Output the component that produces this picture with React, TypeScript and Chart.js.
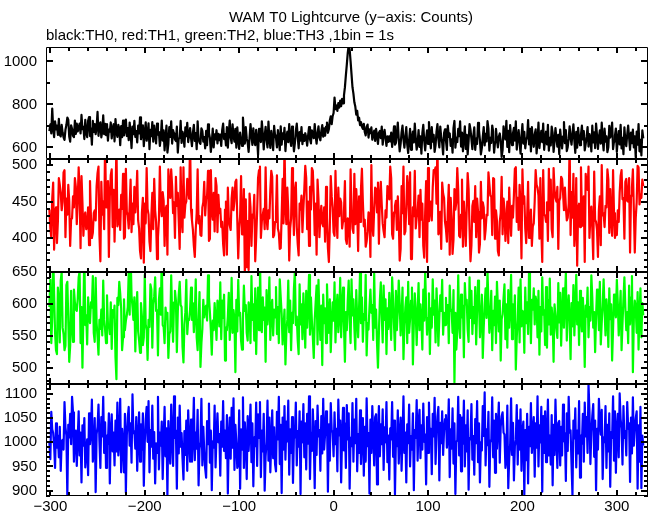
import { useEffect, useRef } from 'react';
import { Chart, registerables } from 'chart.js';

Chart.register(...registerables);

const TITLE = 'WAM T0 Lightcurve (y−axis: Counts)';
const SUBTITLE = 'black:TH0, red:TH1, green:TH2, blue:TH3 ,1bin = 1s';

// first bin time (s); 1 bin = 1 s
const T_START = -301;

// TH0 (black)
const TH0 = [
  676, 707, 665, 781, 690, 648, 721, 684, 701, 658, 733, 659, 651, 705, 669, 647, 635, 682, 704, 739, 729, 651, 627, 703, 687, 654, 648, 725, 663, 711,
  674, 692, 711, 665, 751, 685, 696, 639, 728, 668, 648, 724, 741, 653, 689, 613, 723, 672, 709, 662, 693, 765, 654, 704, 717, 647, 674, 749, 662, 710,
  657, 709, 631, 683, 673, 716, 642, 690, 708, 628, 732, 671, 649, 705, 688, 610, 699, 648, 725, 656, 680, 729, 653, 690, 634, 716, 670, 597, 697, 662,
  724, 649, 676, 623, 701, 665, 740, 638, 665, 703, 606, 669, 717, 631, 659, 712, 592, 682, 652, 718, 627, 701, 662, 619, 711, 659, 672, 607, 647, 725,
  632, 679, 586, 646, 701, 576, 617, 695, 649, 721, 618, 680, 663, 637, 630, 697, 576, 642, 644, 723, 621, 673, 653, 603, 693, 652, 714, 625, 660, 690,
  642, 606, 669, 705, 630, 666, 592, 721, 640, 623, 617, 689, 677, 627, 648, 596, 677, 610, 707, 668, 644, 579, 623, 687, 600, 661, 637, 680, 619, 663,
  634, 660, 607, 680, 711, 639, 662, 609, 695, 599, 670, 725, 645, 620, 707, 655, 627, 686, 599, 693, 639, 593, 669, 638, 607, 739, 672, 618, 695, 642,
  622, 579, 646, 709, 654, 612, 689, 629, 611, 682, 640, 565, 686, 646, 625, 721, 664, 591, 653, 696, 635, 600, 720, 639, 598, 677, 639, 587, 700, 656,
  643, 600, 680, 636, 587, 698, 613, 666, 639, 691, 583, 646, 673, 624, 709, 641, 607, 697, 646, 582, 620, 676, 711, 649, 596, 671, 632, 695, 615, 659,
  630, 666, 646, 608, 655, 694, 638, 619, 679, 662, 643, 708, 654, 618, 666, 698, 645, 633, 676, 704, 650, 689, 655, 697, 716, 668, 685, 725, 745, 708,
  745, 760, 832, 778, 795, 770, 806, 785, 818, 792, 826, 805, 842, 880, 935, 985, 1040, 1075, 1055, 1000, 940, 880, 850, 810, 790, 752, 770, 726, 738, 704,
  718, 697, 686, 710, 672, 656, 695, 706, 646, 684, 666, 693, 636, 659, 678, 630, 686, 655, 616, 668, 677, 643, 697, 613, 660, 682, 642, 607, 652, 626,
  652, 628, 669, 602, 646, 698, 613, 621, 662, 716, 641, 582, 616, 670, 701, 637, 599, 649, 694, 613, 574, 634, 686, 589, 641, 674, 623, 711, 642, 590,
  620, 681, 602, 651, 571, 666, 705, 632, 586, 641, 679, 616, 718, 645, 596, 694, 627, 658, 579, 611, 673, 708, 639, 600, 697, 646, 621, 567, 667, 684,
  631, 588, 702, 649, 665, 607, 638, 576, 690, 723, 599, 644, 625, 686, 652, 721, 604, 669, 582, 642, 698, 593, 659, 567, 630, 709, 683, 637, 592, 653,
  693, 589, 641, 616, 714, 680, 634, 568, 597, 648, 695, 609, 663, 628, 722, 688, 585, 645, 621, 702, 674, 576, 625, 686, 638, 600, 649, 665, 631, 556,
  588, 698, 655, 637, 724, 602, 677, 578, 704, 642, 611, 666, 691, 632, 721, 590, 641, 681, 623, 571, 653, 708, 618, 672, 596, 635, 648, 727, 614, 686,
  581, 694, 639, 603, 660, 684, 572, 630, 716, 597, 648, 677, 624, 711, 589, 638, 673, 614, 705, 585, 644, 609, 697, 667, 579, 628, 690, 646, 604, 658,
  569, 683, 635, 595, 652, 718, 620, 680, 583, 602, 642, 698, 645, 613, 665, 707, 632, 575, 672, 599, 691, 639, 610, 659, 701, 637, 676, 586, 616, 649,
  695, 604, 662, 641, 581, 701, 623, 670, 597, 711, 656, 593, 644, 679, 618, 715, 635, 586, 687, 627, 651, 578, 602, 700, 646, 666, 715, 592, 628, 655,
  688, 579, 638, 676, 614, 705, 595, 645, 569, 693, 630, 606, 660, 702, 644, 589, 669, 620, 683, 600, 652, 555, 674, 613, 709, 582, 635, 563, 679, 642,
];

// TH1 (red)
const TH1 = [
  439, 413, 401, 454, 476, 384, 436, 442, 393, 423, 482, 473, 462, 438, 450, 490, 493, 401, 454, 432, 473, 451, 389, 426, 427, 457, 442, 482, 470, 419,
  451, 497, 463, 386, 485, 449, 403, 430, 435, 412, 415, 442, 390, 478, 428, 400, 407, 434, 438, 424, 471, 489, 498, 404, 368, 477, 432, 450, 412, 534,
  442, 461, 478, 374, 457, 486, 494, 415, 466, 395, 449, 531, 416, 422, 439, 411, 459, 440, 488, 399, 401, 495, 436, 431, 413, 443, 480, 408, 447, 419,
  470, 435, 455, 492, 424, 413, 382, 372, 435, 455, 366, 447, 420, 496, 440, 432, 395, 382, 430, 462, 412, 481, 438, 422, 371, 401, 425, 498, 443, 430,
  463, 451, 389, 439, 444, 377, 494, 473, 455, 494, 471, 434, 449, 400, 484, 444, 462, 423, 385, 497, 425, 408, 497, 428, 446, 450, 481, 467, 454, 534,
  439, 424, 411, 389, 374, 412, 434, 494, 420, 430, 404, 403, 442, 449, 477, 431, 454, 458, 492, 396, 399, 493, 438, 425, 462, 409, 482, 471, 408, 459,
  434, 440, 415, 422, 392, 376, 439, 450, 377, 469, 427, 417, 411, 454, 469, 438, 451, 477, 480, 425, 372, 413, 430, 485, 405, 416, 467, 350, 453, 360,
  423, 356, 461, 442, 389, 432, 428, 459, 368, 400, 435, 482, 493, 498, 400, 423, 432, 440, 412, 497, 427, 412, 438, 427, 466, 492, 484, 401, 404, 422,
  436, 486, 413, 407, 385, 386, 431, 481, 420, 531, 443, 419, 469, 438, 369, 413, 427, 496, 449, 404, 466, 476, 415, 392, 376, 447, 439, 458, 408, 440,
  467, 499, 482, 412, 450, 389, 470, 439, 496, 492, 458, 404, 447, 377, 480, 453, 401, 430, 444, 420, 416, 442, 395, 470, 428, 386, 367, 415, 485, 457,
  442, 408, 403, 492, 432, 400, 469, 430, 454, 449, 413, 423, 436, 478, 398, 392, 427, 425, 388, 494, 439, 413, 407, 488, 419, 467, 438, 382, 457, 422,
  467, 495, 450, 416, 425, 388, 395, 409, 435, 432, 374, 500, 420, 403, 440, 469, 467, 435, 476, 392, 455, 477, 446, 420, 409, 401, 438, 428, 471, 458,
  453, 498, 482, 405, 399, 435, 444, 451, 411, 457, 427, 369, 385, 471, 434, 498, 405, 409, 442, 485, 466, 419, 490, 371, 373, 442, 430, 492, 413, 428,
  438, 458, 401, 466, 425, 447, 389, 373, 435, 478, 367, 496, 423, 440, 450, 424, 469, 493, 492, 497, 447, 534, 405, 408, 436, 385, 476, 461, 455, 422,
  412, 395, 438, 473, 377, 455, 428, 378, 398, 467, 439, 449, 496, 466, 403, 401, 432, 480, 388, 450, 423, 389, 440, 489, 467, 412, 368, 390, 444, 451,
  422, 471, 401, 454, 436, 380, 392, 477, 427, 449, 442, 398, 411, 432, 431, 490, 474, 458, 457, 404, 482, 481, 399, 438, 424, 382, 376, 422, 434, 484,
  405, 454, 440, 396, 420, 450, 393, 469, 430, 403, 444, 428, 459, 495, 497, 422, 455, 411, 473, 443, 372, 494, 447, 457, 413, 393, 428, 477, 400, 405,
  439, 389, 416, 420, 450, 493, 473, 469, 458, 399, 482, 412, 367, 493, 432, 431, 422, 449, 396, 495, 438, 480, 412, 401, 496, 466, 455, 450, 470, 385,
  451, 455, 484, 481, 462, 438, 469, 443, 424, 428, 447, 531, 404, 463, 428, 488, 389, 413, 482, 362, 440, 447, 415, 497, 434, 417, 457, 367, 488, 470,
  466, 498, 400, 430, 443, 413, 371, 491, 425, 422, 411, 374, 439, 457, 390, 500, 431, 434, 415, 444, 442, 494, 480, 407, 467, 424, 403, 493, 434, 400,
  423, 404, 438, 422, 462, 485, 493, 453, 455, 399, 477, 481, 451, 450, 482, 380, 458, 469, 494, 439, 380, 427, 449, 499, 497, 446, 459, 455, 480, 471,
];

// TH2 (green)
const TH2 = [
  595, 637, 539, 579, 678, 614, 555, 528, 522, 625, 606, 540, 636, 649, 563, 553, 528, 535, 629, 634, 575, 510, 535, 620, 565, 541, 622, 602, 591, 589,
  607, 641, 650, 539, 595, 501, 586, 679, 567, 582, 537, 610, 579, 570, 602, 594, 643, 555, 541, 640, 570, 548, 521, 575, 561, 591, 551, 636, 575, 560,
  539, 613, 568, 567, 553, 602, 530, 590, 579, 597, 517, 483, 609, 598, 634, 616, 593, 528, 548, 607, 559, 574, 582, 595, 648, 583, 679, 613, 595, 575,
  610, 526, 587, 618, 557, 543, 524, 601, 580, 536, 548, 645, 568, 559, 513, 575, 564, 630, 622, 532, 599, 611, 641, 589, 590, 520, 606, 624, 583, 679,
  567, 564, 539, 594, 576, 586, 516, 553, 557, 644, 582, 541, 602, 620, 605, 525, 589, 614, 634, 598, 595, 533, 509, 568, 587, 637, 553, 576, 575, 591,
  625, 575, 601, 556, 583, 638, 548, 528, 574, 618, 502, 539, 561, 606, 579, 594, 597, 574, 644, 610, 587, 559, 521, 574, 559, 601, 575, 544, 605, 595,
  565, 633, 545, 605, 578, 614, 512, 563, 559, 580, 617, 544, 574, 640, 555, 590, 576, 494, 606, 557, 637, 582, 586, 543, 529, 575, 628, 589, 598, 555,
  543, 602, 590, 539, 643, 575, 599, 543, 624, 522, 584, 625, 559, 676, 576, 556, 610, 575, 594, 510, 621, 568, 587, 641, 544, 593, 606, 551, 591, 579,
  626, 553, 595, 539, 638, 610, 584, 537, 564, 591, 506, 557, 575, 636, 556, 605, 528, 586, 570, 624, 650, 567, 580, 543, 522, 630, 568, 599, 545, 616,
  576, 532, 620, 563, 598, 645, 552, 610, 574, 548, 516, 575, 602, 628, 537, 637, 579, 544, 597, 505, 614, 570, 593, 539, 630, 580, 555, 607, 525, 570,
  602, 574, 633, 540, 589, 614, 556, 580, 640, 548, 595, 625, 565, 510, 587, 559, 605, 636, 575, 539, 638, 582, 607, 563, 529, 621, 578, 548, 594, 648,
  570, 610, 541, 584, 575, 645, 520, 570, 560, 594, 622, 586, 598, 544, 647, 563, 591, 539, 501, 556, 605, 633, 583, 540, 628, 575, 607, 522, 593, 561,
  617, 580, 544, 641, 606, 567, 528, 620, 559, 589, 636, 601, 551, 578, 625, 514, 565, 594, 610, 539, 634, 555, 576, 605, 625, 506, 570, 616, 586, 536,
  590, 632, 559, 599, 575, 529, 622, 574, 650, 595, 552, 578, 616, 522, 593, 563, 638, 583, 605, 540, 624, 586, 535, 579, 613, 589, 637, 552, 586, 567,
  609, 570, 598, 539, 628, 589, 591, 555, 621, 478, 586, 529, 557, 644, 570, 547, 614, 579, 597, 517, 632, 599, 606, 560, 541, 641, 578, 620, 553, 595,
  570, 626, 537, 590, 636, 607, 548, 579, 614, 516, 563, 598, 624, 578, 650, 602, 555, 575, 620, 528, 589, 567, 611, 539, 634, 597, 557, 605, 512, 576,
  584, 609, 630, 545, 599, 532, 621, 563, 593, 645, 545, 599, 563, 613, 498, 548, 576, 625, 540, 638, 565, 589, 586, 524, 625, 570, 602, 553, 650, 614,
  539, 606, 591, 624, 568, 611, 601, 548, 620, 521, 595, 557, 641, 583, 590, 536, 626, 532, 606, 568, 639, 552, 594, 575, 510, 599, 582, 561, 547, 632,
  571, 617, 535, 586, 624, 563, 606, 648, 543, 590, 613, 575, 514, 601, 565, 629, 551, 593, 645, 568, 602, 536, 620, 583, 557, 609, 575, 502, 597, 580,
  625, 548, 595, 574, 644, 610, 563, 587, 525, 580, 622, 602, 559, 634, 537, 571, 598, 638, 591, 551, 607, 582, 533, 624, 576, 599, 512, 561, 614, 591,
  579, 637, 602, 551, 584, 620, 528, 570, 607, 641, 595, 559, 587, 539, 628, 568, 610, 643, 494, 576, 605, 594, 555, 618, 529, 584, 624, 548, 601, 582,
];

// TH3 (blue)
const TH3 = [
  1001, 965, 1063, 1027, 1019, 993, 947, 1039, 989, 1014, 969, 1032, 941, 1002, 1005, 985, 1083, 1031, 1014, 889, 1036, 1010, 1059, 996, 1094, 1062, 960, 1012, 1024, 951,
  1009, 1064, 973, 1020, 917, 1035, 993, 1050, 948, 978, 1006, 932, 1060, 996, 1021, 1088, 960, 985, 1050, 897, 1017, 1032, 1078, 1002, 947, 1052, 1012, 1094, 978, 1041,
  947, 1014, 997, 1060, 915, 1024, 1058, 981, 1020, 952, 1045, 981, 1082, 973, 1004, 1090, 938, 1028, 1000, 938, 1059, 896, 1014, 1051, 1073, 993, 1039, 958, 1099, 1019,
  1023, 987, 1052, 941, 1006, 1062, 960, 1037, 985, 1060, 910, 1000, 1047, 1073, 1001, 1085, 938, 1025, 991, 1076, 966, 1021, 915, 998, 978, 1094, 944, 1020, 993, 1043,
  924, 1005, 1073, 971, 1029, 890, 1044, 987, 956, 1078, 1008, 951, 1095, 1009, 1024, 904, 1051, 977, 1076, 991, 1019, 966, 923, 1023, 974, 1045, 941, 1066, 1002, 960,
  1047, 960, 1012, 1092, 963, 1020, 987, 1067, 911, 986, 1001, 1090, 952, 1032, 982, 946, 927, 1044, 996, 1080, 958, 1024, 901, 1002, 989, 1076, 948, 1014, 1060, 1000,
  1017, 931, 1043, 991, 1085, 982, 1024, 967, 1056, 894, 1010, 1051, 966, 1071, 989, 1091, 943, 1036, 1000, 947, 954, 1066, 904, 1027, 985, 1093, 947, 1041, 1005, 924,
  1054, 982, 1023, 1078, 959, 1039, 909, 1010, 992, 1082, 951, 1058, 1009, 1083, 928, 1024, 981, 1059, 900, 971, 1001, 1086, 962, 1051, 938, 1001, 1066, 967, 1031, 955,
  940, 1063, 1006, 1094, 955, 1036, 895, 1051, 985, 1075, 964, 1043, 1002, 1086, 933, 1027, 978, 1052, 916, 1013, 1010, 1082, 952, 1023, 991, 1064, 893, 1043, 1000, 1079,
  969, 1039, 944, 1059, 997, 1095, 924, 1020, 982, 1068, 1008, 905, 1044, 974, 1076, 1012, 1025, 941, 1054, 977, 1090, 985, 1017, 1064, 1056, 898, 1037, 962, 1081, 1025,
  1020, 971, 1062, 996, 1028, 940, 1088, 1014, 1045, 917, 1013, 1071, 983, 1039, 947, 1077, 1006, 1060, 904, 1009, 992, 1081, 960, 1047, 998, 1090, 940, 1017, 978, 1066,
  955, 1020, 1050, 931, 1032, 960, 1091, 992, 1019, 894, 1047, 978, 1075, 1013, 952, 1052, 1058, 913, 1012, 1075, 971, 1037, 996, 1068, 943, 1031, 1000, 1083, 959, 1014,
  923, 1029, 1006, 1083, 970, 1045, 892, 1005, 992, 1066, 956, 1016, 1051, 941, 1010, 1095, 978, 1020, 917, 1037, 998, 1078, 950, 1013, 985, 1060, 901, 1025, 1009, 1087,
  962, 1039, 1067, 967, 1035, 985, 1080, 1001, 1016, 913, 1052, 978, 1082, 997, 1028, 934, 1059, 1012, 1092, 955, 1020, 1054, 1073, 921, 1040, 998, 1064, 974, 1024, 1048,
  1056, 989, 1012, 1089, 928, 1027, 987, 1070, 956, 1039, 893, 1001, 1004, 1094, 973, 1056, 940, 1051, 997, 1086, 950, 1035, 981, 1066, 902, 1009, 1006, 1079, 964, 1013,
  933, 1048, 998, 1085, 959, 1039, 917, 1000, 983, 1075, 1013, 1103, 952, 1027, 994, 1063, 908, 1004, 1002, 1093, 969, 1045, 937, 1059, 987, 1032, 1082, 958, 1032, 1054,
  1062, 1020, 1016, 947, 963, 1076, 905, 967, 996, 1091, 974, 1040, 921, 992, 1005, 1077, 954, 1045, 985, 1068, 941, 1024, 1043, 889, 1025, 963, 1059, 915, 1032, 992,
  1081, 978, 1023, 1052, 929, 1039, 989, 1095, 950, 1035, 1000, 1073, 898, 1054, 978, 1064, 959, 1014, 1088, 973, 1014, 954, 1056, 911, 1036, 974, 1088, 1009, 947, 1040,
  1044, 952, 1032, 973, 1078, 1002, 1019, 920, 1060, 982, 1094, 1020, 1025, 955, 890, 1045, 1008, 1070, 948, 1024, 977, 1085, 927, 1014, 997, 1059, 960, 1082, 1012, 1052,
  978, 1121, 1063, 955, 1021, 1054, 1079, 970, 1045, 901, 1028, 985, 1090, 1040, 1016, 1067, 924, 1010, 1000, 1075, 947, 1036, 981, 1060, 908, 1021, 1009, 1095, 962, 1064,
  937, 1027, 1059, 969, 1101, 1048, 1029, 954, 1075, 1009, 1023, 973, 1083, 1028, 1039, 918, 1051, 977, 1093, 993, 1027, 1050, 1064, 904, 1035, 960, 1073, 905, 1014, 993,
];

// axes
const X_MIN = -304.6;
const X_MAX = 333;
const X_LABELS = [-300, -200, -100, 0, 100, 200, 300];
const X_MINOR = 20;
const X_MAJOR = 100;

const Y_MIN = [545, 354, 476, 889];
const Y_MAX = [1067, 508, 650, 1121];
const Y_LABELS = [
  [600, 800, 1000],
  [400, 450, 500],
  [500, 550, 600, 650],
  [900, 950, 1000, 1050, 1100],
];
const Y_MINOR = [100, 10, 10, 10];
const Y_MAJOR = [200, 50, 50, 50];

const SERIES = [TH0, TH1, TH2, TH3];
const COLORS = ['#000000', '#ff0000', '#00ff00', '#0000ff'];
const WIDTHS = [2.2, 2.2, 2.2, 2.2];

const FONT = '"Liberation Sans", Arial, Helvetica, sans-serif';
const fmt = (v: number) => (v < 0 ? '\u2212' + Math.abs(v) : String(v));

const panelPlugin = {
  id: 'wamPanels',
  beforeDatasetDraw(chart: any, args: any) {
    const ds = chart.data.datasets[args.index];
    const ys = chart.scales[ds.yAxisID];
    const ca = chart.chartArea;
    const ctx = chart.ctx;
    ctx.save();
    ctx.beginPath();
    ctx.rect(ca.left, ys.top, ca.right - ca.left, ys.bottom - ys.top);
    ctx.clip();
  },
  afterDatasetDraw(chart: any) {
    chart.ctx.restore();
  },
  afterDraw(chart: any) {
    const ctx = chart.ctx;
    const ca = chart.chartArea;
    const xs = chart.scales.x;
    ctx.save();
    ctx.strokeStyle = '#000';
    const L = Math.round(ca.left);
    const R = Math.round(ca.right);
    for (let p = 0; p < 4; p++) {
      const ys = chart.scales['y' + p];
      const T = Math.round(ys.top);
      const B = Math.round(ys.bottom);
      // frame
      ctx.lineWidth = 1;
      ctx.beginPath();
      ctx.moveTo(L + 0.5, T + 0.5);
      ctx.lineTo(R - 0.5, T + 0.5);
      ctx.lineTo(R - 0.5, B - 0.5);
      ctx.lineTo(L + 0.5, B - 0.5);
      ctx.closePath();
      ctx.stroke();
      // x ticks (top & bottom, inward)
      ctx.lineWidth = 2;
      ctx.beginPath();
      for (let v = Math.ceil(X_MIN / X_MINOR) * X_MINOR; v <= X_MAX; v += X_MINOR) {
        const px = Math.round(xs.getPixelForValue(v));
        const len = v % X_MAJOR === 0 ? 6 : 4;
        ctx.moveTo(px, T);
        ctx.lineTo(px, T + len);
        ctx.moveTo(px, B);
        ctx.lineTo(px, B - len);
      }
      // y ticks (left & right, inward)
      const step = Y_MINOR[p];
      for (let v = Math.ceil(Y_MIN[p] / step) * step; v <= Y_MAX[p]; v += step) {
        const py = Math.round(ys.getPixelForValue(v));
        const len = v % Y_MAJOR[p] === 0 ? 7 : 4;
        ctx.moveTo(L, py);
        ctx.lineTo(L + len, py);
        ctx.moveTo(R, py);
        ctx.lineTo(R - len, py);
      }
      ctx.stroke();
    }
    // titles
    ctx.fillStyle = '#000';
    ctx.font = '15px ' + FONT;
    ctx.textBaseline = 'alphabetic';
    ctx.textAlign = 'center';
    ctx.fillText(TITLE, (ca.left + ca.right) / 2 + 4, 22);
    ctx.textAlign = 'left';
    ctx.fillText(SUBTITLE, ca.left, 40);
    ctx.restore();
  },
};

export default function App() {
  const ref = useRef<HTMLCanvasElement | null>(null);

  useEffect(() => {
    if (!ref.current) return;
    const datasets = SERIES.map((arr, p) => ({
      label: 'TH' + p,
      data: arr.map((v, i) => ({ x: T_START + i, y: v })),
      yAxisID: 'y' + p,
      xAxisID: 'x',
      borderColor: COLORS[p],
      backgroundColor: COLORS[p],
      borderWidth: WIDTHS[p],
      pointRadius: 0,
      tension: 0,
      fill: false,
      borderJoinStyle: 'round' as const,
    }));

    const scales: any = {
      x: {
        type: 'linear',
        position: 'bottom',
        min: X_MIN,
        max: X_MAX,
        grid: { display: false, drawTicks: false },
        border: { display: false },
        ticks: {
          autoSkip: false,
          maxRotation: 0,
          padding: 2,
          color: '#000',
          font: { family: FONT, size: 15 },
          callback: (v: any) => fmt(Number(v)),
        },
        afterBuildTicks: (s: any) => {
          s.ticks = X_LABELS.map((v) => ({ value: v }));
        },
        afterFit: (s: any) => {
          s.height = 19;
        },
      },
    };
    for (let p = 0; p < 4; p++) {
      scales['y' + p] = {
        type: 'linear',
        position: 'left',
        stack: 'panels',
        stackWeight: 1,
        weight: 4 - p,
        min: Y_MIN[p],
        max: Y_MAX[p],
        grid: { display: false, drawTicks: false },
        border: { display: false },
        ticks: {
          autoSkip: false,
          padding: 9,
          color: '#000',
          font: { family: FONT, size: 15 },
          callback: (v: any) => fmt(Number(v)),
        },
        afterBuildTicks: (s: any) => {
          s.ticks = Y_LABELS[p].map((v) => ({ value: v }));
        },
        afterFit: (s: any) => {
          s.width = 46;
        },
      };
    }

    const chart = new Chart(ref.current, {
      type: 'line',
      data: { datasets },
      options: {
        animation: false,
        responsive: false,
        devicePixelRatio: 1,
        layout: { padding: { top: 47, right: 4, left: 0, bottom: 0 } },
        plugins: {
          legend: { display: false },
          tooltip: { enabled: false },
          title: { display: false },
        },
        events: [],
        scales,
      },
      plugins: [panelPlugin],
    } as any);
    return () => chart.destroy();
  }, []);

  return (
    <div style={{ position: 'absolute', left: 0, top: 0, width: 652, height: 515, background: '#fff' }}>
      <canvas ref={ref} width={652} height={515} style={{ width: 652, height: 515, display: 'block' }} />
    </div>
  );
}
